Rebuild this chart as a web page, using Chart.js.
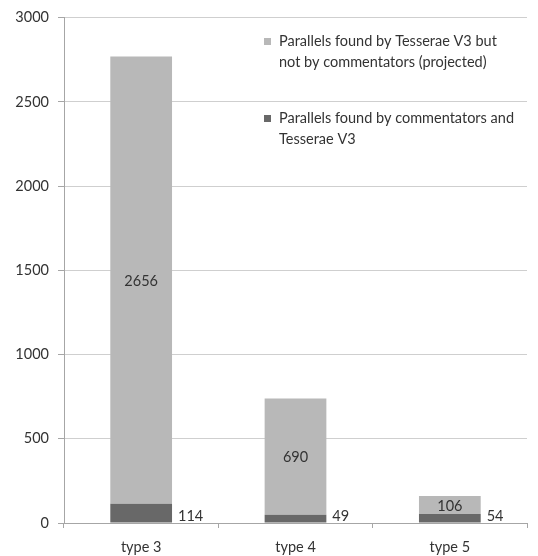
<!DOCTYPE html>
<html>
<head>
<meta charset="utf-8">
<script src="https://cdn.jsdelivr.net/npm/chart.js@4/dist/chart.umd.min.js"></script>
<style>
    html, body { margin: 0; padding: 0; background: #fff; }
    #wrap { position: relative; width: 538px; height: 556px; }
</style>
</head>
<body>
<div id="wrap"><canvas id="parallelsChart"></canvas></div>
<script>
// Categories and series values
const types = ['type 3', 'type 4', 'type 5'];
const foundByBoth = [114, 49, 54];
const foundByTesseraeOnly = [2656, 690, 106];
const yTicks = [0, 500, 1000, 1500, 2000, 2500, 3000];

// Legend labels, one entry per line of text
const labelBoth = ['Parallels found by commentators and', 'Tesserae V3'];
const labelTesseraeOnly = ['Parallels found by Tesserae V3 but', 'not by commentators (projected)'];

const FONT = 'Lato, "DejaVu Sans", sans-serif';
const FONT_SIZE = 14.5;
const TEXT_COLOR = '#333333';

// Legend drawn in the top right corner of the plot, with wrapped labels
const legendPlugin = {
    id: 'sideLegend',
    afterDraw(chart) {
        const ctx = chart.ctx;
        const entries = [
            { color: chart.data.datasets[1].backgroundColor, lines: labelTesseraeOnly, y: 41 },
            { color: chart.data.datasets[0].backgroundColor, lines: labelBoth, y: 118 }
        ];
        ctx.save();
        ctx.font = FONT_SIZE + 'px ' + FONT;
        ctx.textBaseline = 'middle';
        ctx.textAlign = 'left';
        entries.forEach(e => {
            ctx.fillStyle = e.color;
            ctx.fillRect(264, e.y - 3, 7, 7);
            ctx.fillStyle = TEXT_COLOR;
            e.lines.forEach((line, i) => ctx.fillText(line, 279, e.y + i * 21));
        });
        ctx.restore();
    }
};

// Value labels: top segment centred in the bar, bottom segment beside the bar
const valueLabels = {
    id: 'valueLabels',
    afterDatasetsDraw(chart) {
        const ctx = chart.ctx;
        const base = chart.scales.y.getPixelForValue(0);
        ctx.save();
        ctx.font = FONT_SIZE + 'px ' + FONT;
        ctx.fillStyle = TEXT_COLOR;
        ctx.textBaseline = 'middle';

        chart.getDatasetMeta(1).data.forEach((bar, i) => {
            ctx.textAlign = 'center';
            ctx.fillText(foundByTesseraeOnly[i], bar.x, (bar.y + bar.base) / 2 + 1);
        });
        chart.getDatasetMeta(0).data.forEach((bar, i) => {
            ctx.textAlign = 'left';
            ctx.fillText(foundByBoth[i], bar.x + bar.width / 2 + 6, base - 7);
        });
        ctx.restore();
    }
};

new Chart(document.getElementById('parallelsChart'), {
    type: 'bar',
    data: {
        labels: types,
        datasets: [{
            label: labelBoth.join(' '),
            data: foundByBoth,
            backgroundColor: '#686868',
            categoryPercentage: 1,
            barPercentage: 0.4
        }, {
            label: labelTesseraeOnly.join(' '),
            data: foundByTesseraeOnly,
            backgroundColor: '#b8b8b8',
            categoryPercentage: 1,
            barPercentage: 0.4
        }]
    },
    options: {
        responsive: true,
        maintainAspectRatio: false,
        animation: false,
        layout: { padding: { top: 15, right: 11, left: 0, bottom: 0 } },
        plugins: {
            legend: { display: false },
            tooltip: { enabled: false }
        },
        scales: {
            x: {
                stacked: true,
                grid: {
                    offset: true,
                    drawOnChartArea: false,
                    drawTicks: true,
                    tickLength: 5,
                    color: '#a6a6a6'
                },
                border: { color: '#a6a6a6' },
                ticks: {
                    color: TEXT_COLOR,
                    font: { family: FONT, size: FONT_SIZE },
                    padding: 11
                },
                afterFit(scale) { scale.height = 33; }
            },
            y: {
                stacked: true,
                min: 0,
                max: 3000,
                afterBuildTicks(scale) {
                    scale.ticks = yTicks.map(v => ({ value: v }));
                },
                grid: {
                    color: '#cfcfcf',
                    tickColor: '#a6a6a6',
                    tickLength: 6
                },
                border: { color: '#a6a6a6' },
                ticks: {
                    color: TEXT_COLOR,
                    font: { family: FONT, size: FONT_SIZE },
                    padding: 9,
                    callback: value => String(value)
                },
                afterFit(scale) { scale.width = 64; }
            }
        }
    },
    plugins: [valueLabels, legendPlugin]
});
</script>
</body>
</html>
